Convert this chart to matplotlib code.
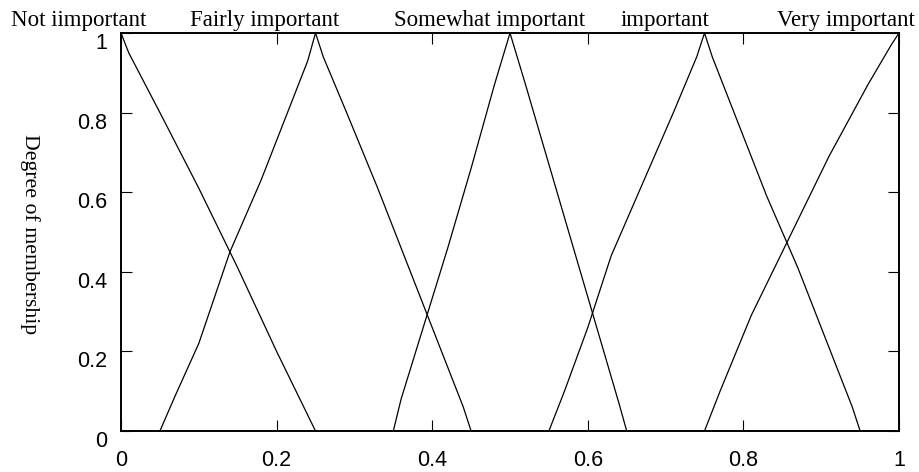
import numpy as np
import matplotlib.pyplot as plt

# membership functions (knot points)
x_not = [0.0, 0.01, 0.05, 0.10, 0.15, 0.20, 0.25]
y_not = [1.0, 0.95, 0.80, 0.61, 0.41, 0.20, 0.0]
x_fairly = [0.05, 0.07, 0.10, 0.14, 0.18, 0.22, 0.24, 0.25,
            0.26, 0.29, 0.33, 0.37, 0.41, 0.44, 0.45]
y_fairly = [0.0, 0.09, 0.22, 0.45, 0.63, 0.83, 0.93, 1.0,
            0.94, 0.80, 0.61, 0.41, 0.21, 0.06, 0.0]
x_somewhat = [0.35, 0.36, 0.39, 0.42, 0.45, 0.48, 0.50,
              0.52, 0.55, 0.58, 0.61, 0.64, 0.65]
y_somewhat = [0.0, 0.08, 0.27, 0.46, 0.66, 0.87, 1.0,
              0.87, 0.67, 0.47, 0.27, 0.07, 0.0]
x_important = [0.55, 0.57, 0.60, 0.63, 0.67, 0.71, 0.74, 0.75,
               0.76, 0.79, 0.83, 0.87, 0.91, 0.94, 0.95]
y_important = [0.0, 0.10, 0.26, 0.44, 0.62, 0.80, 0.94, 1.0,
               0.94, 0.79, 0.59, 0.41, 0.21, 0.06, 0.0]
x_very = [0.75, 0.77, 0.81, 0.86, 0.91, 0.96, 0.99, 1.0]
y_very = [0.0, 0.10, 0.29, 0.49, 0.69, 0.87, 0.97, 1.0]

labels = ["Not iimportant", "Fairly important", "Somewhat important",
          "important", "Very important"]
label_x = [-0.055, 0.185, 0.474, 0.699, 0.932]
ticks = [0, 0.2, 0.4, 0.6, 0.8, 1]
tick_labels = ['0', '0.2', '0.4', '0.6', '0.8', '1']

fig = plt.figure(figsize=(9.19, 4.72), dpi=100)
ax = fig.add_axes([121/919, 1 - 431/472, 778/919, 398/472])

for xs, ys in [(x_not, y_not), (x_fairly, y_fairly), (x_somewhat, y_somewhat),
               (x_important, y_important), (x_very, y_very)]:
    ax.plot(xs, ys, color='black', lw=0.9)

ax.set_xlim(0, 1)
ax.set_ylim(0, 1)
ax.set_xticks(ticks)
ax.set_xticklabels(tick_labels)
ax.set_yticks(ticks)
ax.set_yticklabels(tick_labels)
ax.tick_params(direction='in', length=8, width=0.8, top=True, right=True,
               labelsize=15.5)
ax.tick_params(axis='x', pad=14)
ax.tick_params(axis='y', pad=10)
for tl in ax.get_xticklabels() + ax.get_yticklabels():
    tl.set_family(['Liberation Sans'])
for tl in ax.get_yticklabels():
    tl.set_va('top')
for s in ax.spines.values():
    s.set_linewidth(1.4)

for lab, lx in zip(labels, label_x):
    ax.text(lx, 1.006, lab, ha='center', va='bottom', family='Liberation Serif',
            fontsize=16.5, clip_on=False)

fig.text(30/919, 1 - 234/472, "Degree of membership", rotation=270,
         ha='center', va='center', family='Liberation Serif', fontsize=15.7)

fig.savefig('out.png', dpi=100)
